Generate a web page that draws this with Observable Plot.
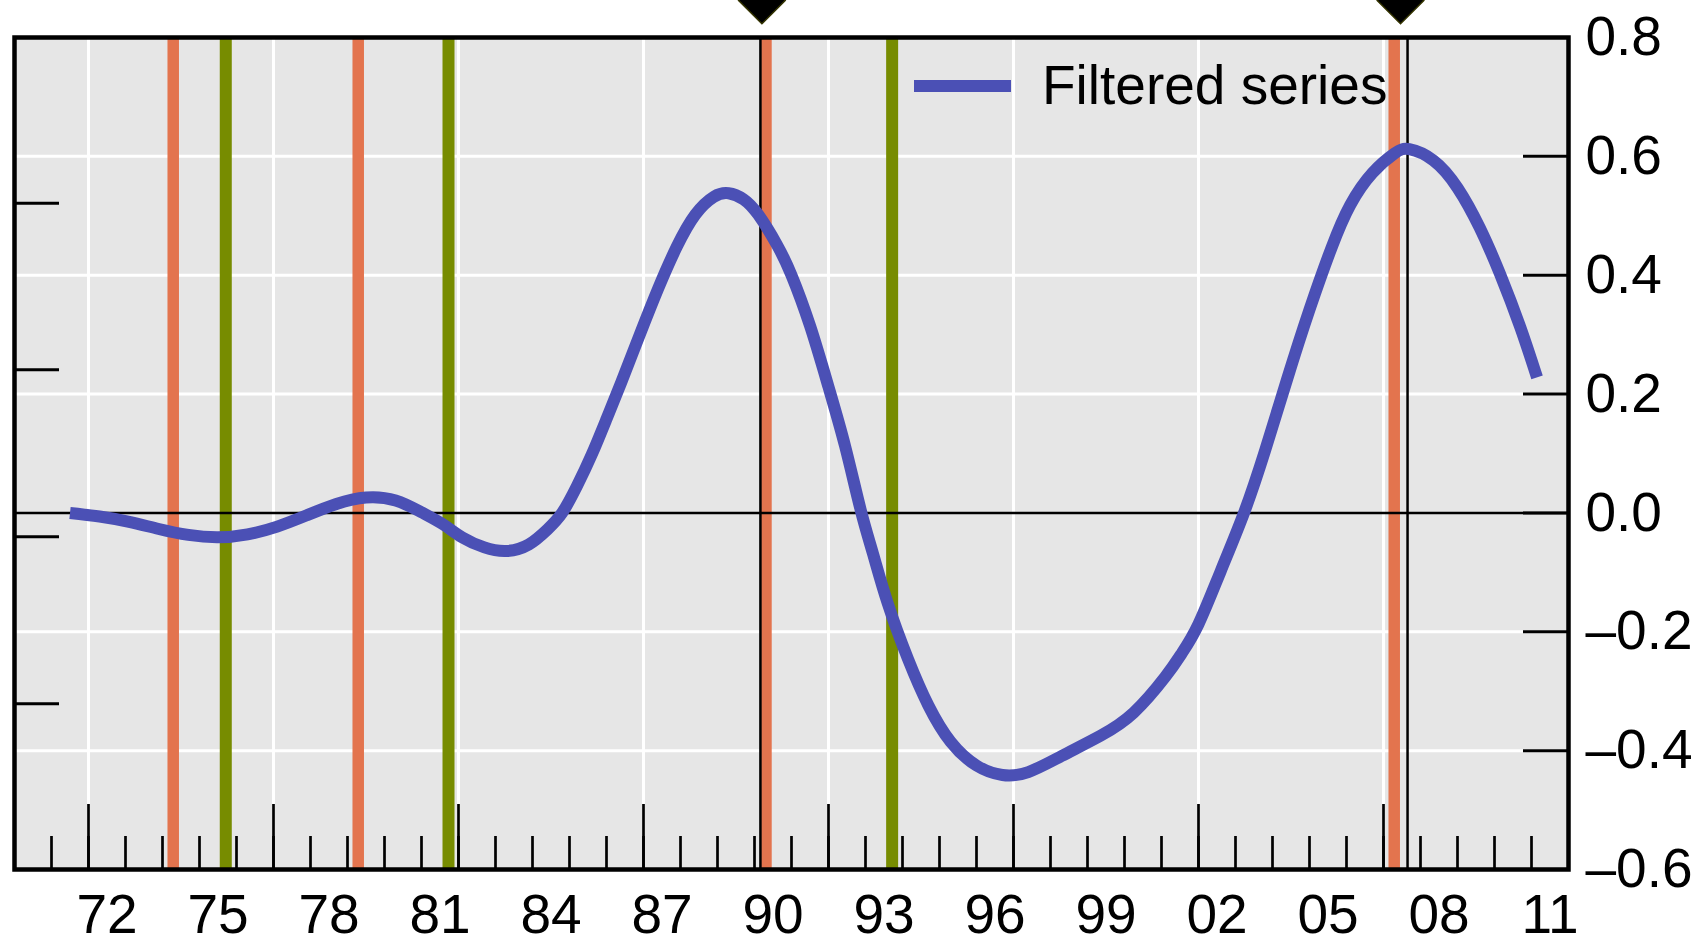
<!DOCTYPE html>
<html><head><meta charset="utf-8">
<script src="https://cdn.jsdelivr.net/npm/d3@7"></script>
<script src="https://cdn.jsdelivr.net/npm/@observablehq/plot@0.6"></script>
<style>
html,body{margin:0;padding:0;background:#fff;overflow:hidden}
#wrap{position:relative;width:1708px;height:944px}
#legend{position:absolute;left:914px;top:58px;height:55px;line-height:55px;display:flex;align-items:center;font-family:"Liberation Sans",Arial,sans-serif;font-size:55px;color:#000;white-space:nowrap}
#legend .sw{display:inline-block;width:97px;height:12px;background:#4b50b5;margin-right:31px}
</style></head>
<body><div id="wrap"><div id="chart"></div><div id="legend"><span class="sw"></span><span>Filtered series</span></div></div>
<script>
// Filtered series (decimal year, value)
const years = [1971.5,1972.3,1973.1,1973.9,1974.7,1975.5,1976.3,1977.1,1977.9,1978.7,1979.5,1980.3,1981.0,1981.6,1982.1,1982.7,1983.3,1983.9,1984.4,1984.8,1985.2,1985.6,1986.0,1986.4,1986.9,1987.4,1987.9,1988.4,1988.9,1989.3,1989.7,1990.1,1990.6,1991.0,1991.5,1992.0,1992.45,1992.87,1993.2,1993.6,1994.15,1994.7,1995.3,1996.0,1996.7,1997.4,1998.3,1999.35,2000.25,2001.1,2001.55,2002.0,2002.6,2003.23,2003.8,2004.4,2005.0,2005.6,2006.1,2006.7,2007.3,2007.7,2008.35,2009.0,2009.6,2010.15,2010.7,2011.15];
const values = [0.000,-0.006,-0.015,-0.027,-0.037,-0.041,-0.036,-0.023,-0.004,0.015,0.026,0.021,0.001,-0.020,-0.041,-0.058,-0.064,-0.053,-0.028,0.000,0.045,0.098,0.158,0.220,0.300,0.378,0.448,0.502,0.532,0.538,0.528,0.502,0.452,0.400,0.315,0.212,0.112,0.005,-0.068,-0.152,-0.246,-0.324,-0.385,-0.425,-0.441,-0.436,-0.409,-0.375,-0.336,-0.276,-0.236,-0.187,-0.098,0.000,0.105,0.226,0.342,0.447,0.518,0.572,0.605,0.612,0.593,0.547,0.480,0.402,0.312,0.228];

// Event markers
const peakYears = [1974.29, 1979.29, 1990.31, 2007.29];     // orange bars
const troughYears = [1975.71, 1981.73, 1993.72];            // green bars
const blackLineYears = [1990.16, 2007.65];                  // thin black rules
const diamondYears = [1990.2, 2007.46];                     // markers above frame

// Axes
const xLabelYears = [1972,1975,1978,1981,1984,1987,1990,1993,1996,1999,2002,2005,2008,2011];
const minorTickYears = d3.range(1971, 2012);
const majorTickYears = [1972,1977,1982,1987,1992,1997,2002,2007];
const yTicks = [-0.6,-0.4,-0.2,0,0.2,0.4,0.6,0.8];
const yGrid = [-0.4,-0.2,0.2,0.4,0.6];
const leftTicks = [0.521, 0.241, -0.040, -0.321];

const series = years.map((y, i) => ({year: y, value: values[i]}));

const W = 1708, H = 944, mL = 14, mR = 140, mT = 37, mB = 75;
const innerW = W - mL - mR, innerH = H - mT - mB;
const font = "Liberation Sans, Arial, sans-serif";

const chart = Plot.plot({
  width: W, height: H,
  marginLeft: mL, marginRight: mR, marginTop: mT, marginBottom: mB,
  x: {domain: [1970, 2012]},
  y: {domain: [-0.6, 0.8]},
  style: {fontFamily: font, fontSize: "55px", background: "white", color: "black"},
  marks: [
    Plot.frame({fill: "#e6e6e6", stroke: null}),
    Plot.ruleY(yGrid, {stroke: "white", strokeWidth: 3}),
    Plot.ruleX(majorTickYears, {stroke: "white", strokeWidth: 3}),
    Plot.ruleX(peakYears, {stroke: "#e3744e", strokeWidth: 11.5}),
    Plot.ruleX(troughYears, {stroke: "#778c00", strokeWidth: 12}),
    Plot.ruleY([0], {stroke: "black", strokeWidth: 2.5}),
    Plot.ruleX(blackLineYears, {stroke: "black", strokeWidth: 2.5}),
    Plot.ruleX(minorTickYears, {stroke: "black", strokeWidth: 2.7, insetTop: innerH - 33}),
    Plot.ruleX(majorTickYears, {stroke: "black", strokeWidth: 2.7, insetTop: innerH - 65}),
    Plot.ruleY(leftTicks, {stroke: "black", strokeWidth: 3, insetRight: innerW - 45}),
    Plot.ruleY(yGrid.concat([0]), {stroke: "black", strokeWidth: 3, insetLeft: innerW - 45}),
    Plot.line(series, {x: "year", y: "value", stroke: "#4b50b5", strokeWidth: 12, curve: "natural", strokeLinecap: "butt", strokeLinejoin: "round"}),
    Plot.frame({stroke: "black", strokeWidth: 4.5}),
    Plot.dot(diamondYears, {x: d => d, frameAnchor: "top", dy: -mT, symbol: "diamond2", r: 21, fill: "black", stroke: "#333300", strokeWidth: 1.5}),
    Plot.axisX(xLabelYears, {x: d => d + 0.5, anchor: "bottom", tickSize: 0, tickPadding: 24, label: null, fontSize: 55,
      tickFormat: d => String(Math.floor(d) % 100).padStart(2, "0")}),
    Plot.axisY(yTicks, {anchor: "right", tickSize: 0, tickPadding: 17, label: null, fontSize: 55,
      tickFormat: d => (d < 0 ? "\u2013" : "") + Math.abs(d).toFixed(1)})
  ]
});
document.getElementById("chart").appendChild(chart);
</script>
</body></html>
